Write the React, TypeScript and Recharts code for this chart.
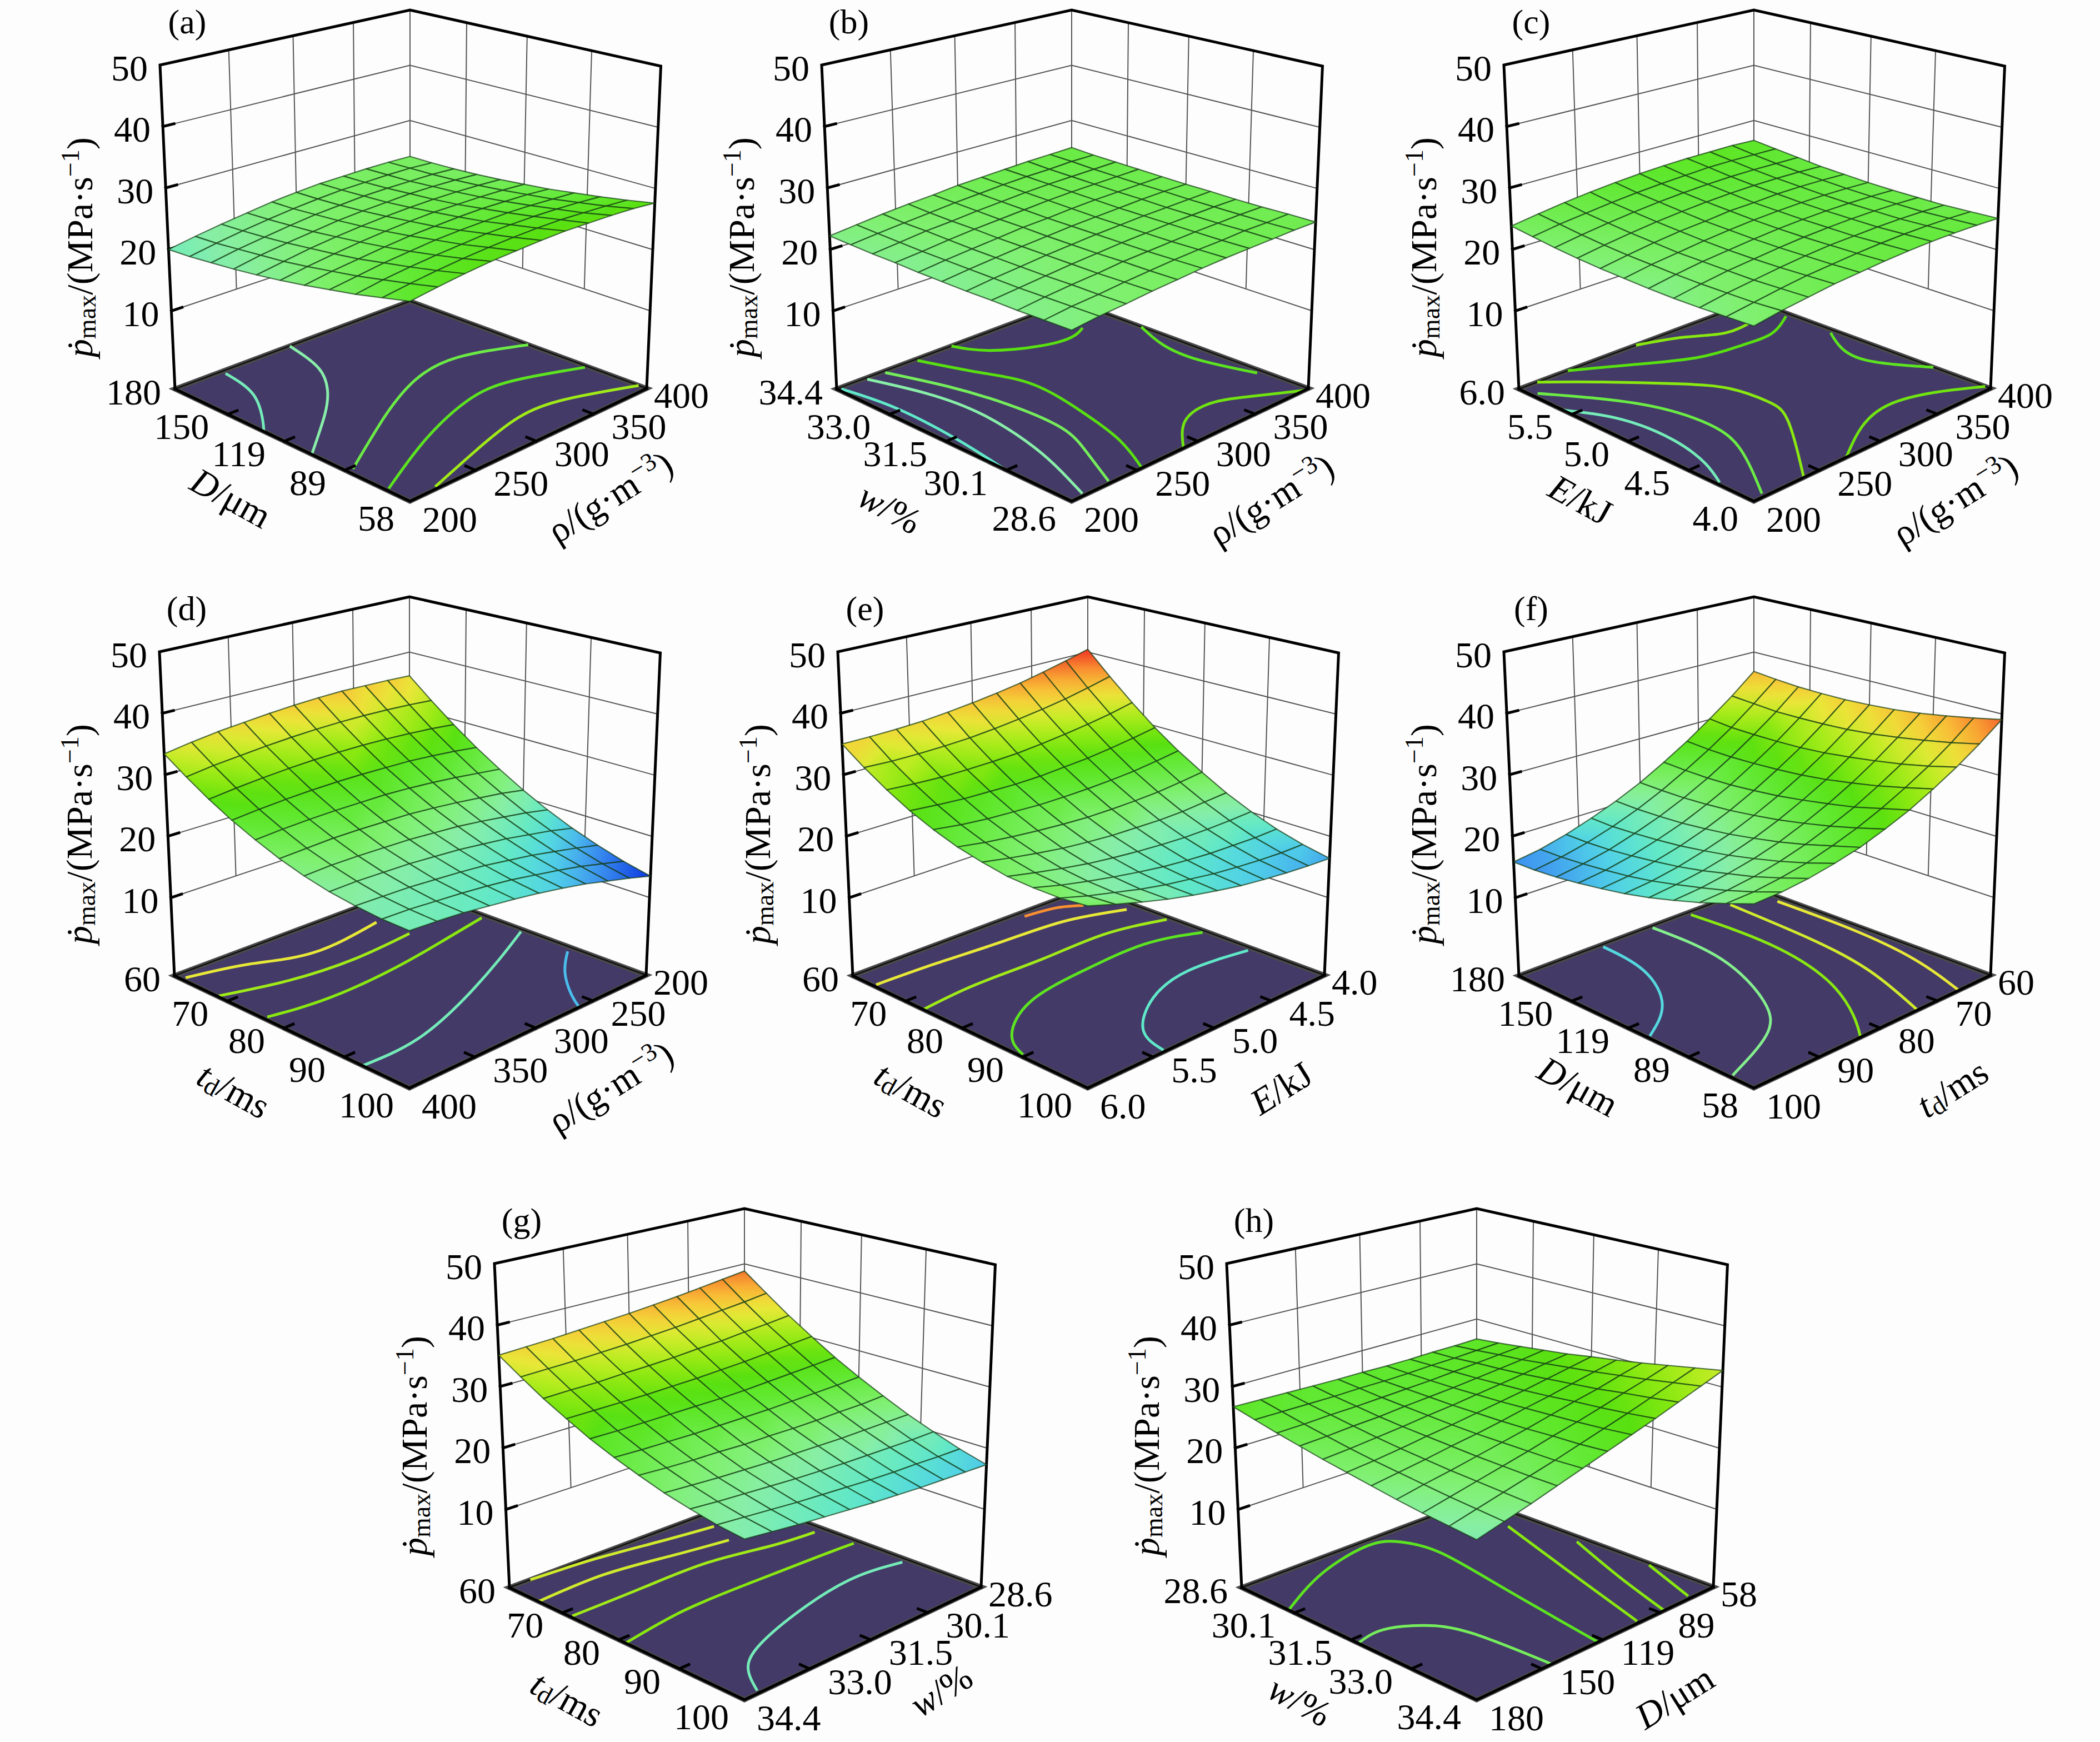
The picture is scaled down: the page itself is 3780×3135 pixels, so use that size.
import { ComposedChart, Line, Scatter, XAxis, YAxis } from "recharts";

// pmax values. rows run along the left floor axis, columns along the right one
const surfaceA = [
  [26.4, 27.0, 27.5, 27.9, 28.1, 28.3, 28.4, 28.3, 28.2, 28.0, 27.6],
  [25.4, 26.0, 26.5, 26.9, 27.2, 27.4, 27.5, 27.5, 27.3, 27.1, 26.8],
  [24.4, 25.1, 25.6, 26.0, 26.3, 26.6, 26.7, 26.7, 26.6, 26.4, 26.1],
  [23.6, 24.2, 24.8, 25.2, 25.6, 25.8, 25.9, 26.0, 25.9, 25.7, 25.5],
  [22.8, 23.5, 24.0, 24.5, 24.9, 25.1, 25.3, 25.4, 25.3, 25.2, 24.9],
  [22.1, 22.8, 23.4, 23.9, 24.3, 24.6, 24.8, 24.8, 24.8, 24.7, 24.5],
  [21.5, 22.2, 22.9, 23.4, 23.8, 24.1, 24.3, 24.4, 24.4, 24.3, 24.1],
  [21.0, 21.8, 22.4, 22.9, 23.4, 23.7, 23.9, 24.1, 24.1, 24.0, 23.8],
  [20.6, 21.4, 22.0, 22.6, 23.1, 23.4, 23.7, 23.8, 23.8, 23.8, 23.6],
  [20.2, 21.0, 21.7, 22.3, 22.8, 23.2, 23.5, 23.6, 23.7, 23.7, 23.5],
  [20.0, 20.8, 21.5, 22.1, 22.7, 23.1, 23.4, 23.5, 23.6, 23.6, 23.5],
];
const surfaceB = [
  [22.2, 22.7, 23.0, 23.4, 23.7, 24.0, 24.2, 24.3, 24.4, 24.5, 24.5],
  [22.1, 22.6, 22.9, 23.3, 23.6, 23.9, 24.1, 24.2, 24.4, 24.4, 24.5],
  [22.0, 22.5, 22.9, 23.2, 23.6, 23.8, 24.0, 24.2, 24.3, 24.4, 24.4],
  [22.0, 22.4, 22.8, 23.2, 23.5, 23.8, 24.0, 24.2, 24.3, 24.4, 24.4],
  [21.9, 22.4, 22.8, 23.2, 23.5, 23.8, 24.0, 24.2, 24.3, 24.4, 24.5],
  [21.9, 22.4, 22.8, 23.2, 23.5, 23.8, 24.0, 24.2, 24.4, 24.5, 24.5],
  [21.9, 22.4, 22.8, 23.2, 23.6, 23.8, 24.1, 24.3, 24.4, 24.5, 24.6],
  [22.0, 22.4, 22.9, 23.3, 23.6, 23.9, 24.2, 24.4, 24.5, 24.6, 24.7],
  [22.0, 22.5, 23.0, 23.3, 23.7, 24.0, 24.3, 24.5, 24.6, 24.7, 24.8],
  [22.1, 22.6, 23.0, 23.4, 23.8, 24.1, 24.4, 24.6, 24.7, 24.9, 24.9],
  [22.2, 22.7, 23.2, 23.6, 23.9, 24.3, 24.5, 24.7, 24.9, 25.0, 25.1],
];
const surfaceC = [
  [22.8, 23.5, 24.0, 24.5, 24.8, 25.1, 25.3, 25.4, 25.4, 25.3, 25.1],
  [22.6, 23.2, 23.8, 24.3, 24.6, 24.9, 25.1, 25.2, 25.2, 25.1, 24.9],
  [22.4, 23.1, 23.6, 24.1, 24.5, 24.8, 24.9, 25.0, 25.0, 24.9, 24.7],
  [22.3, 23.0, 23.6, 24.0, 24.4, 24.7, 24.9, 25.0, 25.0, 24.9, 24.7],
  [22.3, 23.0, 23.6, 24.0, 24.4, 24.7, 24.9, 25.0, 25.0, 24.9, 24.7],
  [22.4, 23.1, 23.6, 24.1, 24.5, 24.8, 25.0, 25.1, 25.1, 25.0, 24.8],
  [22.5, 23.2, 23.8, 24.3, 24.6, 25.0, 25.1, 25.3, 25.3, 25.2, 25.0],
  [22.7, 23.4, 24.0, 24.5, 24.9, 25.2, 25.4, 25.5, 25.5, 25.4, 25.2],
  [23.0, 23.7, 24.3, 24.8, 25.2, 25.5, 25.7, 25.8, 25.8, 25.7, 25.6],
  [23.4, 24.1, 24.6, 25.1, 25.5, 25.8, 26.0, 26.2, 26.2, 26.1, 26.0],
  [23.8, 24.5, 25.1, 25.6, 26.0, 26.3, 26.5, 26.6, 26.6, 26.6, 26.4],
];
const surfaceD = [
  [20.2, 20.0, 19.7, 19.2, 18.7, 18.1, 17.4, 16.6, 15.6, 14.6, 13.5],
  [20.3, 20.2, 19.9, 19.6, 19.2, 18.7, 18.0, 17.3, 16.5, 15.5, 14.5],
  [20.7, 20.6, 20.5, 20.2, 19.9, 19.5, 18.9, 18.3, 17.5, 16.7, 15.8],
  [21.3, 21.4, 21.3, 21.2, 20.9, 20.6, 20.1, 19.6, 18.9, 18.2, 17.3],
  [22.2, 22.4, 22.4, 22.3, 22.2, 21.9, 21.6, 21.1, 20.5, 19.9, 19.1],
  [23.4, 23.6, 23.8, 23.8, 23.7, 23.6, 23.3, 22.9, 22.4, 21.9, 21.2],
  [24.9, 25.2, 25.4, 25.5, 25.5, 25.5, 25.3, 25.0, 24.6, 24.1, 23.6],
  [26.6, 27.0, 27.3, 27.5, 27.6, 27.6, 27.5, 27.4, 27.1, 26.7, 26.2],
  [28.6, 29.1, 29.5, 29.8, 30.0, 30.1, 30.1, 30.0, 29.8, 29.5, 29.1],
  [30.9, 31.5, 31.9, 32.3, 32.6, 32.8, 32.9, 32.9, 32.8, 32.6, 32.3],
  [33.4, 34.1, 34.7, 35.1, 35.5, 35.8, 36.0, 36.1, 36.0, 35.9, 35.7],
];
const surfaceE = [
  [23.8, 22.5, 21.3, 20.2, 19.3, 18.5, 17.8, 17.3, 16.9, 16.6, 16.4],
  [23.4, 22.2, 21.2, 20.2, 19.4, 18.8, 18.2, 17.8, 17.5, 17.3, 17.3],
  [23.4, 22.3, 21.4, 20.6, 19.9, 19.3, 18.9, 18.6, 18.5, 18.4, 18.5],
  [23.6, 22.7, 21.9, 21.2, 20.7, 20.3, 20.0, 19.8, 19.8, 19.9, 20.1],
  [24.3, 23.5, 22.8, 22.2, 21.8, 21.5, 21.4, 21.3, 21.4, 21.7, 22.0],
  [25.2, 24.5, 24.0, 23.6, 23.3, 23.1, 23.1, 23.2, 23.4, 23.8, 24.3],
  [26.5, 25.9, 25.5, 25.3, 25.1, 25.1, 25.2, 25.4, 25.7, 26.2, 26.8],
  [28.1, 27.7, 27.4, 27.3, 27.2, 27.3, 27.6, 27.9, 28.4, 29.0, 29.7],
  [30.1, 29.8, 29.6, 29.6, 29.7, 29.9, 30.3, 30.8, 31.4, 32.1, 33.0],
  [32.4, 32.2, 32.2, 32.3, 32.5, 32.9, 33.4, 34.0, 34.7, 35.6, 36.6],
  [35.0, 35.0, 35.1, 35.3, 35.7, 36.2, 36.8, 37.5, 38.4, 39.4, 40.5],
];
const surfaceF = [
  [24.1, 24.3, 24.8, 25.6, 26.6, 28.0, 29.6, 31.6, 33.8, 36.3, 39.1],
  [22.6, 22.8, 23.4, 24.2, 25.4, 26.8, 28.5, 30.5, 32.7, 35.3, 38.2],
  [21.2, 21.5, 22.1, 23.0, 24.2, 25.7, 27.4, 29.5, 31.8, 34.5, 37.4],
  [20.0, 20.4, 21.1, 22.0, 23.2, 24.8, 26.6, 28.7, 31.1, 33.8, 36.7],
  [18.9, 19.4, 20.1, 21.1, 22.4, 24.0, 25.9, 28.0, 30.5, 33.2, 36.2],
  [18.0, 18.5, 19.3, 20.4, 21.7, 23.4, 25.3, 27.5, 30.0, 32.8, 35.9],
  [17.3, 17.8, 18.7, 19.8, 21.2, 22.9, 24.9, 27.2, 29.7, 32.6, 35.7],
  [16.7, 17.3, 18.2, 19.4, 20.8, 22.6, 24.6, 27.0, 29.6, 32.5, 35.7],
  [16.2, 16.9, 17.8, 19.1, 20.6, 22.4, 24.5, 26.9, 29.6, 32.5, 35.8],
  [15.9, 16.6, 17.6, 18.9, 20.5, 22.4, 24.6, 27.0, 29.7, 32.8, 36.1],
  [15.8, 16.5, 17.6, 19.0, 20.6, 22.5, 24.8, 27.3, 30.1, 33.1, 36.5],
];
const surfaceG = [
  [20.7, 20.2, 19.7, 19.3, 18.9, 18.5, 18.2, 17.9, 17.7, 17.5, 17.3],
  [21.2, 20.8, 20.4, 20.0, 19.7, 19.4, 19.1, 18.9, 18.8, 18.6, 18.5],
  [22.0, 21.6, 21.3, 21.0, 20.7, 20.5, 20.3, 20.2, 20.1, 20.0, 20.0],
  [22.9, 22.6, 22.3, 22.1, 21.9, 21.8, 21.7, 21.6, 21.6, 21.6, 21.6],
  [24.1, 23.8, 23.6, 23.5, 23.3, 23.3, 23.2, 23.2, 23.3, 23.3, 23.5],
  [25.4, 25.2, 25.1, 25.0, 25.0, 25.0, 25.0, 25.1, 25.2, 25.3, 25.5],
  [26.9, 26.8, 26.8, 26.8, 26.8, 26.8, 26.9, 27.1, 27.3, 27.5, 27.7],
  [28.7, 28.7, 28.7, 28.7, 28.8, 28.9, 29.1, 29.3, 29.6, 29.9, 30.2],
  [30.6, 30.7, 30.7, 30.9, 31.0, 31.2, 31.5, 31.7, 32.1, 32.4, 32.8],
  [32.8, 32.9, 33.0, 33.2, 33.4, 33.7, 34.0, 34.4, 34.8, 35.2, 35.7],
  [35.1, 35.3, 35.5, 35.8, 36.1, 36.4, 36.8, 37.2, 37.7, 38.2, 38.7],
];
const surfaceH = [
  [20.6, 21.7, 22.8, 24.0, 25.2, 26.4, 27.6, 28.8, 30.1, 31.4, 32.7],
  [21.0, 22.0, 23.0, 24.0, 25.0, 26.1, 27.2, 28.3, 29.5, 30.7, 31.9],
  [21.4, 22.3, 23.2, 24.1, 25.0, 26.0, 26.9, 27.9, 29.0, 30.0, 31.1],
  [21.9, 22.7, 23.4, 24.2, 25.0, 25.8, 26.7, 27.6, 28.4, 29.4, 30.3],
  [22.5, 23.1, 23.7, 24.4, 25.0, 25.7, 26.5, 27.2, 28.0, 28.8, 29.6],
  [23.1, 23.5, 24.0, 24.6, 25.1, 25.7, 26.3, 26.9, 27.6, 28.3, 29.0],
  [23.7, 24.0, 24.4, 24.8, 25.3, 25.7, 26.2, 26.7, 27.2, 27.8, 28.3],
  [24.4, 24.6, 24.9, 25.1, 25.5, 25.8, 26.1, 26.5, 26.9, 27.3, 27.8],
  [25.1, 25.2, 25.4, 25.5, 25.7, 25.9, 26.1, 26.4, 26.7, 27.0, 27.3],
  [25.9, 25.9, 25.9, 25.9, 26.0, 26.0, 26.1, 26.3, 26.4, 26.6, 26.8],
  [26.7, 26.6, 26.5, 26.4, 26.3, 26.3, 26.2, 26.2, 26.3, 26.3, 26.4],
];

// contour lines on the floor: level, then [right axis fraction, left axis fraction] points
type Contour = { level: number; pts: number[][] };
const contoursA: Contour[] = [
  { level: 20, pts: [[0.18, 0.98], [0.14, 0.8], [0.04, 0.64], [0, 0.59]] },
  { level: 21, pts: [[0.46, 1], [0.41, 0.81], [0.32, 0.67], [0.2, 0.55], [0, 0.385]] },
  { level: 25, pts: [[0.02, 0.24], [0.32, 0.42], [0.56, 0.535], [0.77, 0.56], [1, 0.47]] },
  { level: 27, pts: [[0.01, 0.09], [0.285, 0.225], [0.56, 0.32], [0.76, 0.32], [0.99, 0.23]] },
  { level: 31, pts: [[0.105, 0.01], [0.34, 0.08], [0.58, 0.137], [0.775, 0.12], [1, 0.03]] },
];
const contoursB: Contour[] = [
  { level: 28, pts: [[0.46, 1], [0.52, 0.89], [0.66, 0.8], [0.78, 0.78], [0.86, 0.81]] },
  { level: 28, pts: [[0.31, 0.99], [0.385, 0.785], [0.44, 0.6], [0.405, 0.355], [0.35, 0.16], [0.27, 0]] },
  { level: 24, pts: [[0.18, 0.99], [0.25, 0.77], [0.29, 0.55], [0.29, 0.33], [0.23, 0.17], [0.15, 0.01]] },
  { level: 21, pts: [[0.11, 0.99], [0.17, 0.785], [0.19, 0.555], [0.15, 0.3], [0.1, 0.14], [0.05, 0.01]] },
  { level: 19, pts: [[0.01, 0.99], [0.04, 0.77], [0.03, 0.49], [0, 0.26]] },
  { level: 27, pts: [[1, 0.68], [0.94, 0.53], [0.93, 0.37], [0.98, 0.18]] },
  { level: 29, pts: [[0.44, 0], [0.57, 0.11], [0.7, 0.14], [0.81, 0.1], [0.98, 0]] },
];
const contoursC: Contour[] = [
  { level: 30, pts: [[0.47, 1], [0.62, 0.94], [0.74, 0.87], [0.88, 0.88]] },
  { level: 28, pts: [[0.19, 1], [0.35, 0.9], [0.54, 0.79], [0.71, 0.76], [0.84, 0.76], [0.98, 0.83]] },
  { level: 30, pts: [[0.07, 1], [0.21, 0.86], [0.365, 0.685], [0.45, 0.55], [0.465, 0.406], [0.41, 0.27], [0.19, 0]] },
  { level: 25, pts: [[0.02, 0.935], [0.13, 0.77], [0.21, 0.6], [0.236, 0.41], [0.185, 0.235], [0.045, 0.015]] },
  { level: 20, pts: [[0, 0.79], [0.08, 0.62], [0.095, 0.415], [0.06, 0.25], [0.01, 0.14]] },
  { level: 27, pts: [[0.98, 0.63], [0.925, 0.545], [0.895, 0.405], [1, 0.22]] },
  { level: 29, pts: [[0.36, 0], [0.533, 0.097], [0.7, 0.14], [0.86, 0.1], [1, 0.02]] },
];
const contoursD: Contour[] = [
  { level: 34, pts: [[0.015, 0.965], [0.215, 0.905], [0.41, 0.83], [0.715, 0.865]] },
  { level: 31, pts: [[0.005, 0.795], [0.22, 0.73], [0.465, 0.705], [0.725, 0.725]] },
  { level: 30, pts: [[0.013, 0.587], [0.225, 0.555], [0.51, 0.57], [0.76, 0.61], [0.98, 0.65]] },
  { level: 20, pts: [[0, 0.178], [0.215, 0.185], [0.505, 0.275], [0.78, 0.39], [0.985, 0.485]] },
  { level: 17, pts: [[0.97, 0.28], [0.84, 0.18], [0.735, 0.065], [0.69, 0]] },
];
const contoursE: Contour[] = [
  { level: 38, pts: [[0.68, 0.97], [0.8, 0.95], [0.88, 0.9]] },
  { level: 34, pts: [[0.01, 0.9], [0.24, 0.89], [0.49, 0.87], [0.74, 0.85], [0.955, 0.775]] },
  { level: 31, pts: [[0, 0.67], [0.22, 0.69], [0.486, 0.684], [0.756, 0.684], [0.985, 0.625]] },
  { level: 27, pts: [[0.01, 0.26], [0.07, 0.37], [0.255, 0.49], [0.516, 0.534], [0.79, 0.54], [0.987, 0.473]] },
  { level: 19, pts: [[0.3, 0.007], [0.35, 0.13], [0.525, 0.255], [0.74, 0.31], [0.98, 0.28]] },
];
const contoursF: Contour[] = [
  { level: 34, pts: [[0.97, 0.86], [0.968, 0.532], [0.93, 0.24], [0.85, 0]] },
  { level: 33, pts: [[0.84, 0.95], [0.82, 0.57], [0.77, 0.28], [0.665, 0.005]] },
  { level: 30, pts: [[0.69, 0.98], [0.7, 0.63], [0.63, 0.32], [0.51, 0.11], [0.424, 0.006]] },
  { level: 22, pts: [[0.53, 0.988], [0.515, 0.655], [0.395, 0.355], [0.245, 0.195], [0.01, 0.09]] },
  { level: 18, pts: [[0.32, 0.985], [0.29, 0.76], [0.17, 0.545], [0.01, 0.42]] },
];
const contoursG: Contour[] = [
  { level: 33, pts: [[0.08, 1], [0.32, 0.98], [0.55, 0.94], [0.765, 0.905]] },
  { level: 33, pts: [[0, 0.86], [0.26, 0.87], [0.5, 0.83], [0.72, 0.79]] },
  { level: 31, pts: [[0.007, 0.713], [0.287, 0.714], [0.55, 0.71], [0.777, 0.663], [0.96, 0.64]] },
  { level: 30, pts: [[0, 0.471], [0.26, 0.51], [0.53, 0.51], [0.8, 0.5], [0.98, 0.49]] },
  { level: 20, pts: [[0.06, 0.012], [0.142, 0.128], [0.29, 0.21], [0.54, 0.28], [0.787, 0.313], [0.975, 0.285]] },
];
const contoursH: Contour[] = [
  { level: 27, pts: [[0, 0.777], [0.24, 0.908], [0.48, 0.968], [0.574, 0.916], [0.604, 0.766], [0.554, 0.446], [0.48, 0]] },
  { level: 24, pts: [[0, 0.47], [0.106, 0.484], [0.207, 0.423], [0.27, 0.289], [0.289, 0]] },
  { level: 30, pts: [[0.907, 0.763], [0.79, 0.41], [0.66, 0.01]] },
  { level: 30, pts: [[0.97, 0.52], [0.857, 0.244], [0.77, 0]] },
  { level: 30, pts: [[0.99, 0.24], [0.897, 0.013]] },
];

const zTicks = [10, 20, 30, 40, 50];
const floorTicks = [0, 0.25, 0.5, 0.75, 1];
const colorLevels = [13, 14.5, 16, 17.5, 19, 21, 23, 26, 28, 30, 32, 34, 36, 38, 40, 41];
const colorValues = ["#0020e0", "#2060e8", "#4098f0", "#50d0e8", "#60e8c8", "#88eea8", "#80f070", "#60e830", "#58e010", "#88e810", "#b8ec20", "#e8e838", "#f8c838", "#f89030", "#f04828", "#f02020"];

const tickD = ["58", "89", "119", "150", "180"];
const tickDRev = ["180", "150", "119", "89", "58"];
const tickW = ["28.6", "30.1", "31.5", "33.0", "34.4"];
const tickWRev = ["34.4", "33.0", "31.5", "30.1", "28.6"];
const tickE = ["4.0", "4.5", "5.0", "5.5", "6.0"];
const tickERev = ["6.0", "5.5", "5.0", "4.5", "4.0"];
const tickT = ["100", "90", "80", "70", "60"];
const tickRho = ["200", "250", "300", "350", "400"];
const tickRhoRev = ["400", "350", "300", "250", "200"];

const panels = [
  { id: "a", surface: surfaceA, contours: contoursA, left: tickD, right: tickRho, leftTitle: "D", rightTitle: "rho", ox: 738, oy: 18, lt: [-322, 878], rt: [360, 876] },
  { id: "b", surface: surfaceB, contours: contoursB, left: tickW, right: tickRho, leftTitle: "w", rightTitle: "rho", ox: 1929, oy: 18, lt: [-327, 897], rt: [359, 881] },
  { id: "c", surface: surfaceC, contours: contoursC, left: tickE, right: tickRho, leftTitle: "E", rightTitle: "rho", ox: 3157, oy: 18, lt: [-312, 881], rt: [362, 881] },
  { id: "d", surface: surfaceD, contours: contoursD, left: tickT, right: tickRhoRev, leftTitle: "t", rightTitle: "rho", ox: 737, oy: 1074, lt: [-316, 888], rt: [362, 882] },
  { id: "e", surface: surfaceE, contours: contoursE, left: tickT, right: tickERev, leftTitle: "t", rightTitle: "E", ox: 1958, oy: 1074, lt: [-318, 887], rt: [348, 884] },
  { id: "f", surface: surfaceF, contours: contoursF, left: tickD, right: tickT, leftTitle: "D", rightTitle: "t", ox: 3157, oy: 1074, lt: [-316, 881], rt: [357, 884] },
  { id: "g", surface: surfaceG, contours: contoursG, left: tickT, right: tickWRev, leftTitle: "t", rightTitle: "w", ox: 1340, oy: 2175, lt: [-319, 882], rt: [354, 867] },
  { id: "h", surface: surfaceH, contours: contoursH, left: tickWRev, right: tickDRev, leftTitle: "w", rightTitle: "D", ox: 2658, oy: 2175, lt: [-318, 886], rt: [356, 879] },
];

const CW = 1400;
const CH = 1090;
const BX = 700; // back corner inside a panel's chart
const BY = 40;
const Z_FLOOR = -2.7;
const FONT = "'Liberation Serif', 'Times New Roman', serif";

function colorAt(z: number) {
  const n = colorLevels.length;
  if (z <= colorLevels[0]) return colorValues[0];
  if (z >= colorLevels[n - 1]) return colorValues[n - 1];
  let i = 0;
  while (z > colorLevels[i + 1]) i++;
  const t = (z - colorLevels[i]) / (colorLevels[i + 1] - colorLevels[i]);
  const c = (s: string, o: number) => parseInt(s.slice(o, o + 2), 16);
  const mix = (o: number) => Math.round(c(colorValues[i], o) * (1 - t) + c(colorValues[i + 1], o) * t);
  return `rgb(${mix(1)},${mix(3)},${mix(5)})`;
}

// unit square to floor/top quad, order front, right, back, left
function homography(q: number[][]) {
  const [[x0, y0], [x1, y1], [x2, y2], [x3, y3]] = q;
  const dx1 = x1 - x2, dx2 = x3 - x2, sx = x0 - x1 + x2 - x3;
  const dy1 = y1 - y2, dy2 = y3 - y2, sy = y0 - y1 + y2 - y3;
  const den = dx1 * dy2 - dx2 * dy1;
  const g = (sx * dy2 - dx2 * sy) / den;
  const h = (dx1 * sy - sx * dy1) / den;
  return (u: number, v: number) => {
    const w = g * u + h * v + 1;
    return [((x1 - x0 + g * x1) * u + (x3 - x0 + h * x3) * v + x0) / w, ((y1 - y0 + g * y1) * u + (y3 - y0 + h * y3) * v + y0) / w];
  };
}

function makeProjector() {
  const quad = (pts: number[][]) => homography(pts.map(([x, y]) => [BX + x, BY + y]));
  const floor = quad([[0, 884], [426, 681], [0, 524], [-423, 682]]);
  const top = quad([[0, 232.5], [451.5, 101], [0, 0], [-450, 99]]);
  return (a: number, b: number, z: number) => {
    const f = floor(a, b);
    const t = top(a, b);
    const k = (z - Z_FLOOR) / (50 - Z_FLOOR);
    return { px: f[0] + (t[0] - f[0]) * k, py: f[1] + (t[1] - f[1]) * k };
  };
}

function CellShape(props: any) {
  const { cx, cy, payload } = props;
  const { corners, vals, gid, px, py } = payload;
  const pts = corners.map((c: any) => [cx + c.px - px, cy + c.py - py]);
  let lo = 0;
  let hi = 0;
  vals.forEach((v: number, i: number) => {
    if (v < vals[lo]) lo = i;
    if (v > vals[hi]) hi = i;
  });
  return (
    <g>
      <defs>
        <linearGradient id={gid} gradientUnits="userSpaceOnUse" x1={pts[lo][0]} y1={pts[lo][1]} x2={pts[hi][0]} y2={pts[hi][1]}>
          <stop offset="0" stopColor={colorAt(vals[lo])} />
          <stop offset="0.5" stopColor={colorAt((vals[lo] + vals[hi]) / 2)} />
          <stop offset="1" stopColor={colorAt(vals[hi])} />
        </linearGradient>
      </defs>
      <polygon points={pts.map((p: number[]) => p.join(",")).join(" ")} fill={`url(#${gid})`} stroke="#123a12" strokeOpacity={0.7} strokeWidth={2.2} strokeLinejoin="round" />
    </g>
  );
}

function FloorShape(props: any) {
  const { cx, cy, payload } = props;
  const pts = payload.corners.map((c: any) => `${cx + c.px - payload.px},${cy + c.py - payload.py}`).join(" ");
  return <polygon points={pts} fill="#433a68" stroke="#4a4a4a" strokeWidth={9} />;
}

const SMALL = 46;
const SUP = 17;
function titleBody(kind: string) {
  if (kind === "D") return (<><tspan fontStyle="italic">D</tspan>/μm</>);
  if (kind === "w") return (<><tspan fontStyle="italic">w</tspan>/%</>);
  if (kind === "E") return (<><tspan fontStyle="italic">E</tspan>/kJ</>);
  if (kind === "t") return (<><tspan fontStyle="italic">t</tspan><tspan fontSize={SMALL} dy={13}>d</tspan><tspan dy={-13}>/ms</tspan></>);
  return (<>ρ/(g·m<tspan fontSize={SMALL} dy={-SUP}>−3</tspan><tspan dy={SUP}>)</tspan></>);
}

function LabelShape(props: any) {
  const { cx, cy, payload } = props;
  const { text, anchor, rot, kind, size } = payload;
  const tf = rot ? `rotate(${rot} ${cx} ${cy})` : undefined;
  let body: any = text;
  if (kind === "title") body = titleBody(text);
  if (kind === "z") {
    body = (
      <>
        <tspan fontStyle="italic">ṗ</tspan>
        <tspan fontSize={SMALL} dy={13}>max</tspan>
        <tspan dy={-13}>/(MPa·s</tspan>
        <tspan fontSize={SMALL} dy={-SUP}>−1</tspan>
        <tspan dy={SUP}>)</tspan>
      </>
    );
  }
  return (
    <text x={cx} y={cy} textAnchor={anchor} dominantBaseline="central" fontFamily={FONT} fontSize={size} fill="#000" transform={tf}>
      {body}
    </text>
  );
}

function Panel({ p }: { p: (typeof panels)[number] }) {
  const L = makeProjector();
  const wall: any[] = [];
  const frame: any[] = [];
  const thin: any[] = [];

  zTicks.slice(0, 4).forEach((z) => {
    wall.push([L(0, 1, z), L(1, 1, z), L(1, 0, z)]);
    frame.push([L(0, 1, z), L(0.04, 1, z)]);
  });
  [0.25, 0.5, 0.75].forEach((t) => {
    wall.push([L(t, 1, 10), L(t, 1, 50)]);
    wall.push([L(1, t, 10), L(1, t, 50)]);
    frame.push([L(0, t, Z_FLOOR), L(0.035, t, Z_FLOOR)]);
    frame.push([L(t, 0, Z_FLOOR), L(t, 0.035, Z_FLOOR)]);
  });
  wall.push([L(1, 1, 10), L(1, 1, 50)]);
  frame.push([L(0, 1, Z_FLOOR), L(0, 1, 50), L(1, 1, 50), L(1, 0, 50), L(1, 0, Z_FLOOR)]);
  frame.push([L(0, 1, Z_FLOOR), L(0, 0, Z_FLOOR), L(1, 0, Z_FLOOR)]);
  thin.push([L(0, 1, Z_FLOOR), L(1, 1, Z_FLOOR), L(1, 0, Z_FLOOR)]);

  const floorCorners = [L(0, 0, Z_FLOOR), L(1, 0, Z_FLOOR), L(1, 1, Z_FLOOR), L(0, 1, Z_FLOOR)];
  const floorData = [{ ...floorCorners[0], corners: floorCorners }];

  // back to front so near cells paint over far ones
  const cells: any[] = [];
  for (let j = 9; j >= 0; j--) {
    for (let i = 9; i >= 0; i--) {
      const s = p.surface;
      const vals = [s[j][i], s[j][i + 1], s[j + 1][i + 1], s[j + 1][i]];
      const corners = [L(i / 10, j / 10, vals[0]), L((i + 1) / 10, j / 10, vals[1]), L((i + 1) / 10, (j + 1) / 10, vals[2]), L(i / 10, (j + 1) / 10, vals[3])];
      cells.push({ ...corners[0], corners, vals, gid: `c${p.id}${j}_${i}` });
    }
  }

  const labels: any[] = [];
  const at = (x: number, y: number) => ({ px: BX + x, py: BY + y });
  labels.push({ ...at(-401, 21), text: `(${p.id})`, anchor: "middle", size: 62 });
  labels.push({ ...at(-595, 427), kind: "z", anchor: "middle", rot: -90, size: 66 });
  labels.push({ ...at(p.lt[0], p.lt[1]), kind: "title", text: p.leftTitle, anchor: "middle", rot: 29, size: 66 });
  labels.push({ ...at(p.rt[0], p.rt[1]), kind: "title", text: p.rightTitle, anchor: "middle", rot: -32, size: 66 });
  zTicks.forEach((z) => {
    const q = L(0, 1, z);
    labels.push({ px: q.px - 22, py: q.py + 5, text: String(z), anchor: "end", size: 66 });
  });
  floorTicks.forEach((t, i) => {
    const l = L(0, t, Z_FLOOR);
    const r = L(t, 0, Z_FLOOR);
    const ld = i === 0 ? [-28, 30] : i === 4 ? [-25, 5] : [-34, 22];
    const rd = i === 0 ? [22, 32] : i === 4 ? [13, 12] : [33, 23];
    labels.push({ px: l.px + ld[0], py: l.py + ld[1], text: p.left[i], anchor: "end", size: 66 });
    labels.push({ px: r.px + rd[0], py: r.py + rd[1], text: p.right[i], anchor: "start", size: 66 });
  });

  const seg = (list: any[], stroke: string, width: number, cap: any, z: number) =>
    list.map((d, i) => (
      <Line key={`${stroke}${i}`} zIndex={z} data={d} dataKey="py" stroke={stroke} strokeWidth={width} strokeLinecap={cap} dot={false} activeDot={false} legendType="none" isAnimationActive={false} />
    ));

  return (
    <div style={{ position: "absolute", left: p.ox - BX, top: p.oy - BY }}>
      <ComposedChart width={CW} height={CH} margin={{ top: 0, right: 0, bottom: 0, left: 0 }} style={{ overflow: "visible" }}>
        <XAxis type="number" dataKey="px" domain={[0, CW]} allowDataOverflow hide />
        <YAxis type="number" dataKey="py" domain={[0, CH]} allowDataOverflow reversed hide />
        {seg(wall, "#555555", 2, "butt", 10)}
        <Scatter zIndex={20} data={floorData} shape={FloorShape} isAnimationActive={false} />
        {seg(thin, "#111111", 2.5, "butt", 30)}
        {p.contours.map((c, i) => (
          <Line key={`k${i}`} zIndex={40} type="natural" data={c.pts.map(([a, b]) => L(a, b, Z_FLOOR))} dataKey="py" stroke={colorAt(c.level)} strokeWidth={5} dot={false} activeDot={false} isAnimationActive={false} />
        ))}
        {seg(frame, "#000000", 5, "square", 50)}
        <Scatter zIndex={60} data={cells} shape={CellShape} isAnimationActive={false} />
        <Scatter zIndex={70} data={labels} shape={LabelShape} isAnimationActive={false} />
      </ComposedChart>
    </div>
  );
}

export default function App() {
  return (
    <div style={{ position: "absolute", left: 0, top: 0, width: 3780, height: 3135, background: "#fdfdfd", overflow: "hidden" }}>
      {panels.map((p) => (
        <Panel key={p.id} p={p} />
      ))}
    </div>
  );
}
